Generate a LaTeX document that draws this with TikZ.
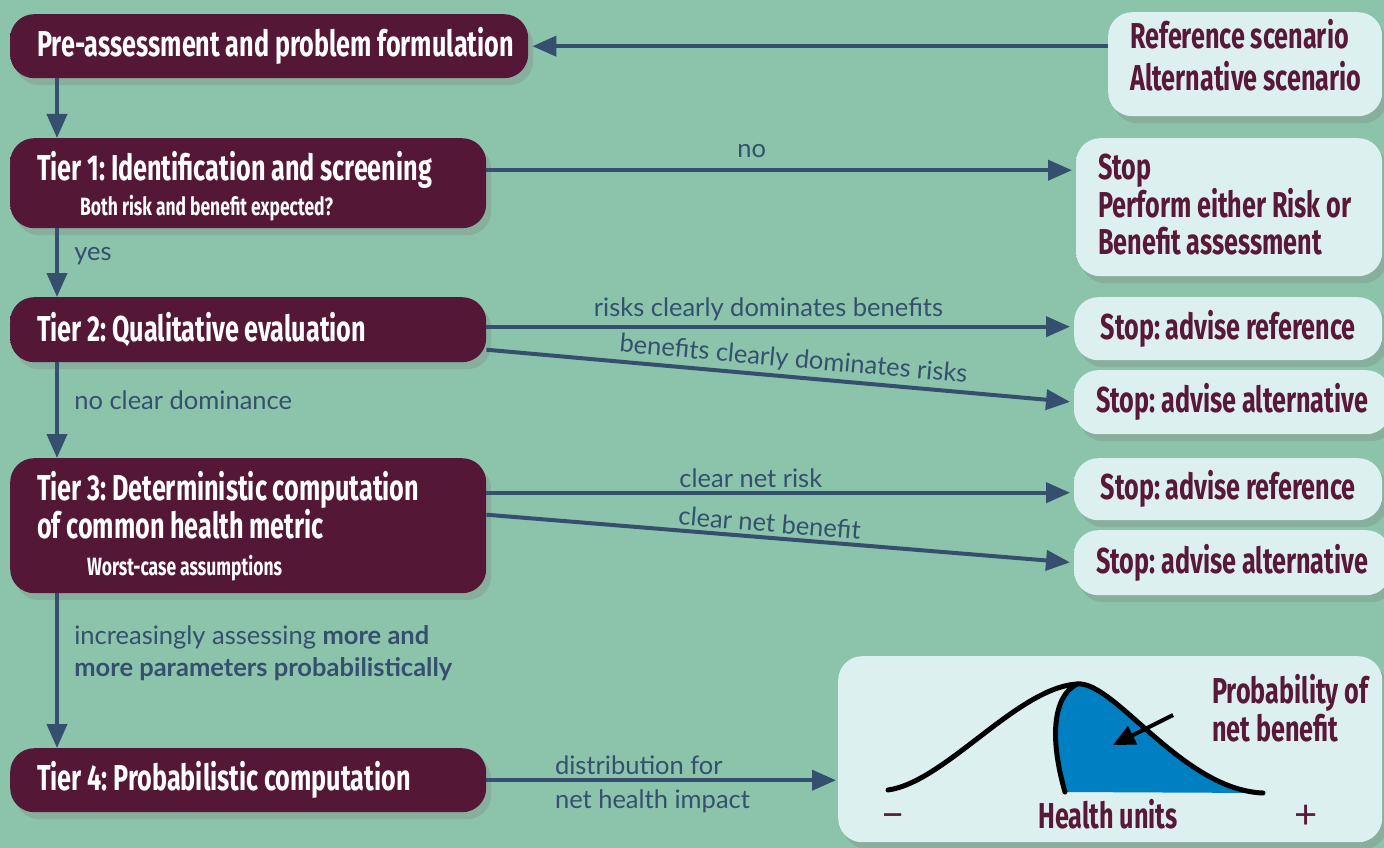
\documentclass[tikz,border=0pt]{standalone}
\usepackage{fontspec}
\usetikzlibrary{arrows.meta,shadows}
\newfontfamily\boxfont{Fira Sans}[FakeStretch=0.7, WordSpace=0.95]
\newfontfamily\labelfont{Lato}
\definecolor{bggreen}{RGB}{139,196,170}
\definecolor{tiermaroon}{RGB}{84,23,53}
\definecolor{tierdeep}{RGB}{48,10,28}
\definecolor{tierrose}{RGB}{170,120,145}
\definecolor{stoplight}{RGB}{221,240,240}
\definecolor{stoptop}{RGB}{242,251,251}
\definecolor{stopdeep}{RGB}{165,195,205}
\definecolor{boxtext}{RGB}{90,24,56}
\definecolor{flowblue}{RGB}{52,80,110}
\definecolor{distblue}{RGB}{0,128,195}
\pgfdeclareverticalshading{tierbevel}{100bp}{color(0bp)=(tierdeep); color(14bp)=(tiermaroon); color(84bp)=(tiermaroon); color(100bp)=(tierrose)}
\pgfdeclareverticalshading{stopbevel}{100bp}{color(0bp)=(stopdeep); color(14bp)=(stoplight); color(84bp)=(stoplight); color(100bp)=(stoptop)}
\newcommand\tiersubsize{\fontsize{25}{28}\selectfont}
\frenchspacing

\begin{document}
\begin{tikzpicture}[x=1pt, y=-1pt,
	tierbox/.style={rectangle, rounded corners=24pt, shade, shading=tierbevel, text=white, anchor=north west, align=flush left, inner xsep=27pt, inner ysep=0pt, font=\boxfont\bfseries\fontsize{36}{38}\selectfont, drop shadow={shadow xshift=5pt, shadow yshift=-7pt, opacity=0.3}},
	stopbox/.style={rectangle, rounded corners=24pt, shade, shading=stopbevel, text=boxtext, anchor=north west, align=center, inner xsep=22pt, inner ysep=0pt, font=\boxfont\bfseries\fontsize{36}{37}\selectfont, drop shadow={shadow xshift=5pt, shadow yshift=-7pt, opacity=0.3}},
	flow/.style={draw=flowblue, line width=4pt, -{Triangle[length=24pt,width=20pt]}},
	flowlabel/.style={font=\labelfont\fontsize{25.5}{32}\selectfont, text=flowblue},
	curve/.style={draw=black, line width=5pt, line cap=round},
	distlabel/.style={font=\boxfont\bfseries\fontsize{36}{38}\selectfont, text=boxtext, inner sep=0pt}]
	\fill[bggreen] (0,0) rectangle (1384,848);
	\useasboundingbox (0,0) rectangle (1384,848);

	\node[tierbox, text width=464pt, minimum height=64pt] (pre) at (10,14) {\mbox{Pre-assessment and problem formulation}};
	\node[tierbox, text width=422pt, minimum height=90pt] (tierone) at (10,138) {\rule{0pt}{36pt}\mbox{Tier 1: Identification and screening}\\[-3pt]{\tiersubsize\hspace*{43pt}Both risk and benefit expected?}};
	\node[tierbox, text width=422pt, minimum height=65pt] (tiertwo) at (10,297) {Tier 2: Qualitative evaluation};
	\node[tierbox, text width=422pt, minimum height=135pt] (tierthree) at (10,458) {\mbox{Tier 3: Deterministic computation}\\of common health metric\\[-1pt]{\tiersubsize\hspace*{50pt}Worst-case assumptions}};
	\node[tierbox, text width=422pt, minimum height=64pt] (tierfour) at (10,748) {\mbox{Tier 4: Probabilistic computation}};

	\node[stopbox, align=flush left, text width=230pt, minimum height=104pt] (scen) at (1108,12) {\mbox{Reference scenario}\\[5pt]\mbox{Alternative scenario}\rule[-18pt]{0pt}{18pt}};
	\node[stopbox, align=flush left, text width=262pt, minimum height=138pt] (stopone) at (1076,138) {Stop\\\mbox{Perform either Risk or}\\\mbox{Benefit assessment}\rule[-6pt]{0pt}{6pt}};
	\node[stopbox, minimum width=308pt, minimum height=63pt] (stoprefa) at (1074,297) {Stop: advise reference};
	\node[stopbox, minimum width=308pt, minimum height=64pt] (stopalta) at (1074,370) {Stop: advise alternative};
	\node[stopbox, minimum width=308pt, minimum height=62pt] (stoprefb) at (1074,458) {Stop: advise reference};
	\node[stopbox, minimum width=308pt, minimum height=65pt] (stopaltb) at (1074,530) {Stop: advise alternative};
	\node[stopbox, minimum width=544pt, minimum height=186pt] (dist) at (838,656) {};

	\draw[flow, shorten >=4pt] (pre.east -| scen.west) -- (pre.east);
	\draw[flow] ([xshift=47pt]pre.south west) -- ([xshift=47pt]tierone.north west);
	\draw[flow, shorten >=4pt] ([yshift=13pt]tierone.east) -- ([yshift=13pt]tierone.east -| stopone.west) node[flowlabel, pos=0.45, above=7pt] (lblno) {no};
	\draw[flow] ([xshift=47pt]tierone.south west) -- ([xshift=47pt]tiertwo.north west) node[flowlabel, pos=0.4, right=12pt] (lblyes) {yes};
	\draw[flow, shorten >=4pt] ([yshift=3pt]tiertwo.east) -- ([yshift=3pt]tiertwo.east -| stoprefa.west) node[flowlabel, pos=0.48, above=0pt] (lblrisk) {risks clearly dominates benefits};
	\draw[flow, shorten >=4pt] ([yshift=-20pt]tiertwo.east) -- (stopalta.west) node[flowlabel, pos=0.52, sloped, above=0pt] (lblbenefit) {benefits clearly dominates risks};
	\draw[flow] ([xshift=47pt]tiertwo.south west) -- ([xshift=47pt]tierthree.north west) node[flowlabel, pos=0.4, right=12pt] (lblnoclear) {no clear dominance};
	\draw[flow, shorten >=4pt] ([yshift=33pt]tierthree.east) -- ([yshift=33pt]tierthree.east -| stoprefb.west) node[flowlabel, pos=0.45, above=0pt] (lblnetrisk) {clear net risk};
	\draw[flow, shorten >=4pt] ([yshift=11pt]tierthree.east) -- (stopaltb.west) node[flowlabel, pos=0.48, sloped, above=0pt] (lblnetbenefit) {clear net benefit};
	\draw[flow] ([xshift=47pt]tierthree.south west) -- ([xshift=47pt]tierfour.north west) node[flowlabel, pos=0.385, right=12pt, align=left] (lblmore) {increasingly assessing \textbf{more and}\\\textbf{more parameters probabilistically}};
	\draw[flow, shorten >=2pt] (tierfour.east) -- (tierfour.east -| dist.west) node[flowlabel, pos=0.18, anchor=south west] (lbldistone) {distribution for} node[flowlabel, pos=0.18, anchor=north west, yshift=-4pt] (lbldisttwo) {net health impact};

	\fill[distblue] (1065,792) .. controls (1050,740) and (1052,697) .. (1077,684) .. controls (1114,680) and (1182,790) .. (1263,793) -- cycle;
	\draw[curve] (888,790) .. controls (945,782) and (1017,688) .. (1077,684) .. controls (1114,680) and (1182,790) .. (1263,793);
	\draw[curve] (1077,684) .. controls (1052,697) and (1050,740) .. (1065,792);
	\node[distlabel, anchor=north west, align=left] (probtext) at (1212,674) {Probability of\\net benefit};
	\coordinate (probstart) at (1173,715);
	\coordinate (probtip) at (1113,745);
	\draw[draw=black, line width=4pt, -{Triangle[length=22pt,width=20pt]}] (probstart) -- (probtip);
	\node[distlabel, anchor=base] (units) at (1108,828) {Health units};
	\node[distlabel, font=\labelfont\fontsize{40}{40}\selectfont, anchor=base] (minus) at (893,828) {−};
	\node[distlabel, font=\labelfont\fontsize{40}{40}\selectfont, anchor=base] (plus) at (1306,828) {+};
\end{tikzpicture}
\end{document}
